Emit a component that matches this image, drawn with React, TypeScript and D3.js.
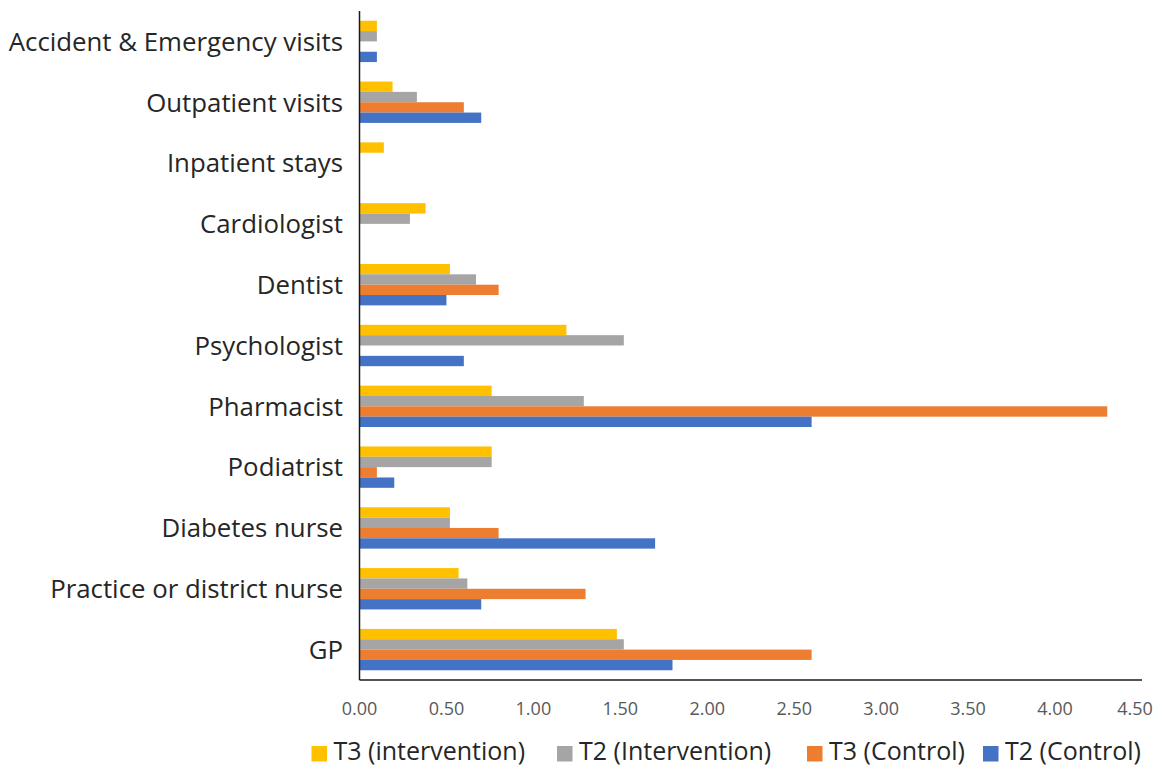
import { useEffect, useRef } from "react";
import * as d3 from "d3";

const categories = [
  "Accident & Emergency visits",
  "Outpatient visits",
  "Inpatient stays",
  "Cardiologist",
  "Dentist",
  "Psychologist",
  "Pharmacist",
  "Podiatrist",
  "Diabetes nurse",
  "Practice or district nurse",
  "GP",
];

const seriesNames = ["T3 (intervention)", "T2 (Intervention)", "T3 (Control)", "T2 (Control)"];
const seriesColors = ["#FFC000", "#A5A5A5", "#ED7D31", "#4472C4"];

const t3Intervention = [0.1, 0.19, 0.14, 0.38, 0.52, 1.19, 0.76, 0.76, 0.52, 0.57, 1.48];
const t2Intervention = [0.1, 0.33, 0, 0.29, 0.67, 1.52, 1.29, 0.76, 0.52, 0.62, 1.52];
const t3Control = [0, 0.6, 0, 0, 0.8, 0, 4.3, 0.1, 0.8, 1.3, 2.6];
const t2Control = [0.1, 0.7, 0, 0, 0.5, 0.6, 2.6, 0.2, 1.7, 0.7, 1.8];

const xTicks = [0, 0.5, 1, 1.5, 2, 2.5, 3, 3.5, 4, 4.5];

// legend swatch positions, as laid out in the original
const legendX = [311.5, 557, 807, 983];

const W = 1165;
const H = 765;
const FONT = "'Open Sans', 'Noto Sans', sans-serif";

export default function App() {
  const ref = useRef<SVGSVGElement | null>(null);

  useEffect(() => {
    const svgEl = ref.current;
    if (!svgEl) return;
    const svg = d3.select(svgEl);
    svg.selectAll("*").remove();

    const left = 359.5;
    const right = 1142;
    const top = 11;
    const bottom = 680;

    const x = d3.scaleLinear().domain([0, 4.5]).range([left, right]);
    const y = d3
      .scaleBand<string>()
      .domain(categories)
      .range([top, bottom])
      .paddingInner(0.32)
      .paddingOuter(0.16);
    const sub = d3.scaleBand<number>().domain([0, 1, 2, 3]).range([0, y.bandwidth()]);

    const allSeries = [t3Intervention, t2Intervention, t3Control, t2Control];

    // bars, one group per category, series top to bottom
    const rows = categories.map((c, i) => ({ c, vals: allSeries.map((s) => s[i]) }));
    svg
      .append("g")
      .selectAll("g.grp")
      .data(rows)
      .join("g")
      .attr("class", "grp")
      .attr("transform", (d) => `translate(0,${y(d.c)})`)
      .selectAll("rect")
      .data((d) => d.vals.map((v, k) => ({ v, k })))
      .join("rect")
      .attr("x", x(0))
      .attr("y", (d) => sub(d.k)!)
      .attr("width", (d) => x(d.v) - x(0))
      .attr("height", sub.bandwidth())
      .attr("fill", (d) => seriesColors[d.k]);

    // axis lines
    svg
      .append("line")
      .attr("x1", left)
      .attr("x2", left)
      .attr("y1", top)
      .attr("y2", bottom)
      .attr("stroke", "#1a1a1a")
      .attr("stroke-width", 1.5);
    svg
      .append("line")
      .attr("x1", left)
      .attr("x2", right)
      .attr("y1", bottom)
      .attr("y2", bottom)
      .attr("stroke", "#1a1a1a")
      .attr("stroke-width", 1.5);

    // category labels
    svg
      .append("g")
      .selectAll("text")
      .data(categories)
      .join("text")
      .attr("x", 343)
      .attr("y", (d) => y(d)! + y.bandwidth() / 2)
      .attr("dy", "0.36em")
      .attr("text-anchor", "end")
      .attr("fill", "#262626")
      .style("font-family", FONT)
      .style("font-size", "25.8px")
      .text((d) => d);

    // tick labels (last one pulled in so it stays inside the frame)
    svg
      .append("g")
      .selectAll("text")
      .data(xTicks)
      .join("text")
      .attr("x", (d) => Math.min(x(d), 1135))
      .attr("y", 715)
      .attr("text-anchor", "middle")
      .attr("fill", "#595959")
      .style("font-family", FONT)
      .style("font-size", "18px")
      .text((d) => d.toFixed(2));

    // legend
    const lg = svg.append("g").style("font-family", FONT).style("font-size", "25px");
    seriesNames.forEach((name, k) => {
      lg.append("rect")
        .attr("x", legendX[k])
        .attr("y", 746)
        .attr("width", 15.5)
        .attr("height", 15.5)
        .attr("fill", seriesColors[k]);
      lg.append("text")
        .attr("x", legendX[k] + 22)
        .attr("y", 759.5)
        .attr("fill", "#262626")
        .text(name);
    });
  }, []);

  return (
    <svg
      ref={ref}
      width={W}
      height={H}
      style={{ position: "absolute", left: 0, top: 0, background: "#fff" }}
    />
  );
}
